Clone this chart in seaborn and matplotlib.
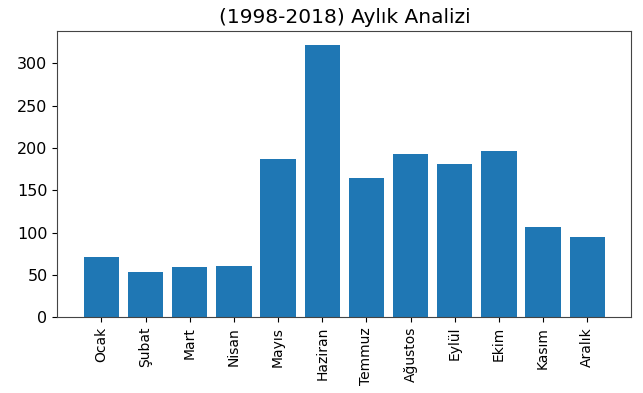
import matplotlib
matplotlib.use("Agg")
import matplotlib.pyplot as plt
import seaborn as sns
import pandas as pd

# monthly totals
months = ["Ocak", "Şubat", "Mart", "Nisan", "Mayıs", "Haziran",
          "Temmuz", "Ağustos", "Eylül", "Ekim", "Kasım", "Aralık"]
counts = [71, 53, 59, 61, 187, 322, 164, 193, 181, 196, 107, 95]

df = pd.DataFrame({"ay": months, "adet": counts})

fig = plt.figure(figsize=(6.43, 3.93), dpi=100)
ax = fig.add_axes([0.089, 0.193, 0.893, 0.728])

sns.barplot(data=df, x="ay", y="adet", color="#1f77b4", saturation=1,
            width=0.8, ax=ax)

ax.set_xlim(-1, 12)
ax.set_xlabel("")
ax.set_ylabel("")
ax.set_title("(1998-2018) Aylık Analizi", fontsize=14.5)
ax.tick_params(axis="x", labelrotation=90, labelsize=10)
ax.tick_params(axis="y", labelsize=11.5)
for sp in ax.spines.values():
    sp.set_color("#444444")

fig.savefig("out.png", dpi=100)
